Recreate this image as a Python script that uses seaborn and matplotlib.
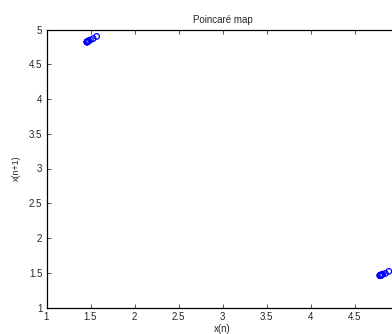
import matplotlib
matplotlib.use("Agg")
import matplotlib.pyplot as plt
import seaborn as sns
import pandas as pd

# Poincaré map points: (x(n), x(n+1))
xn  = [1.57, 4.89, 1.53, 4.85, 1.50, 4.82, 1.48, 4.81, 1.47, 4.80, 1.47, 4.80,
       1.46, 4.79, 1.46, 4.79, 1.46, 4.79, 1.46, 4.79]
xn1 = [4.90, 1.52, 4.87, 1.49, 4.85, 1.48, 4.84, 1.47, 4.83, 1.47, 4.83, 1.46,
       4.82, 1.46, 4.82, 1.46, 4.82, 1.46, 4.82, 1.46]

xticks = [1, 1.5, 2, 2.5, 3, 3.5, 4, 4.5, 5]
yticks = [1, 1.5, 2, 2.5, 3, 3.5, 4, 4.5, 5]
xtick_labels = ["1", "1.5", "2", "2.5", "3", "3.5", "4", "4.5", ""]
ytick_labels = ["1", "1.5", "2", "2.5", "3", "3.5", "4", "4.5", "5"]

df = pd.DataFrame({"x(n)": xn, "x(n+1)": xn1})

sns.set_style("ticks")
plt.rcParams["font.family"] = ["Liberation Sans", "DejaVu Sans"]

fig = plt.figure(figsize=(3.92, 3.34), dpi=100)
W, H = 392, 334
ax = fig.add_axes([46.5 / W, (H - 307.5) / H, 352 / W, 278 / H])

sns.scatterplot(data=df, x="x(n)", y="x(n+1)", ax=ax, marker="o",
                facecolor="none", edgecolor="#0000ff", linewidth=0.9, s=16)

ax.set_xlim(1, 5)
ax.set_ylim(1, 5)
ax.set_xticks(xticks)
ax.set_xticklabels(xtick_labels)
ax.set_yticks(yticks)
ax.set_yticklabels(ytick_labels)
ax.tick_params(direction="in", length=3, width=0.6, labelsize=7, pad=3,
               top=True, right=True, color="#333333")
for s in ax.spines.values():
    s.set_linewidth(0.9)
    s.set_color("black")
    s.set_visible(True)

ax.set_title("Poincaré map", fontsize=7, pad=5)
ax.set_xlabel("x(n)", fontsize=7, labelpad=2)
ax.set_ylabel("x(n+1)", fontsize=6.5, labelpad=6)

fig.savefig("out.png", dpi=100)
